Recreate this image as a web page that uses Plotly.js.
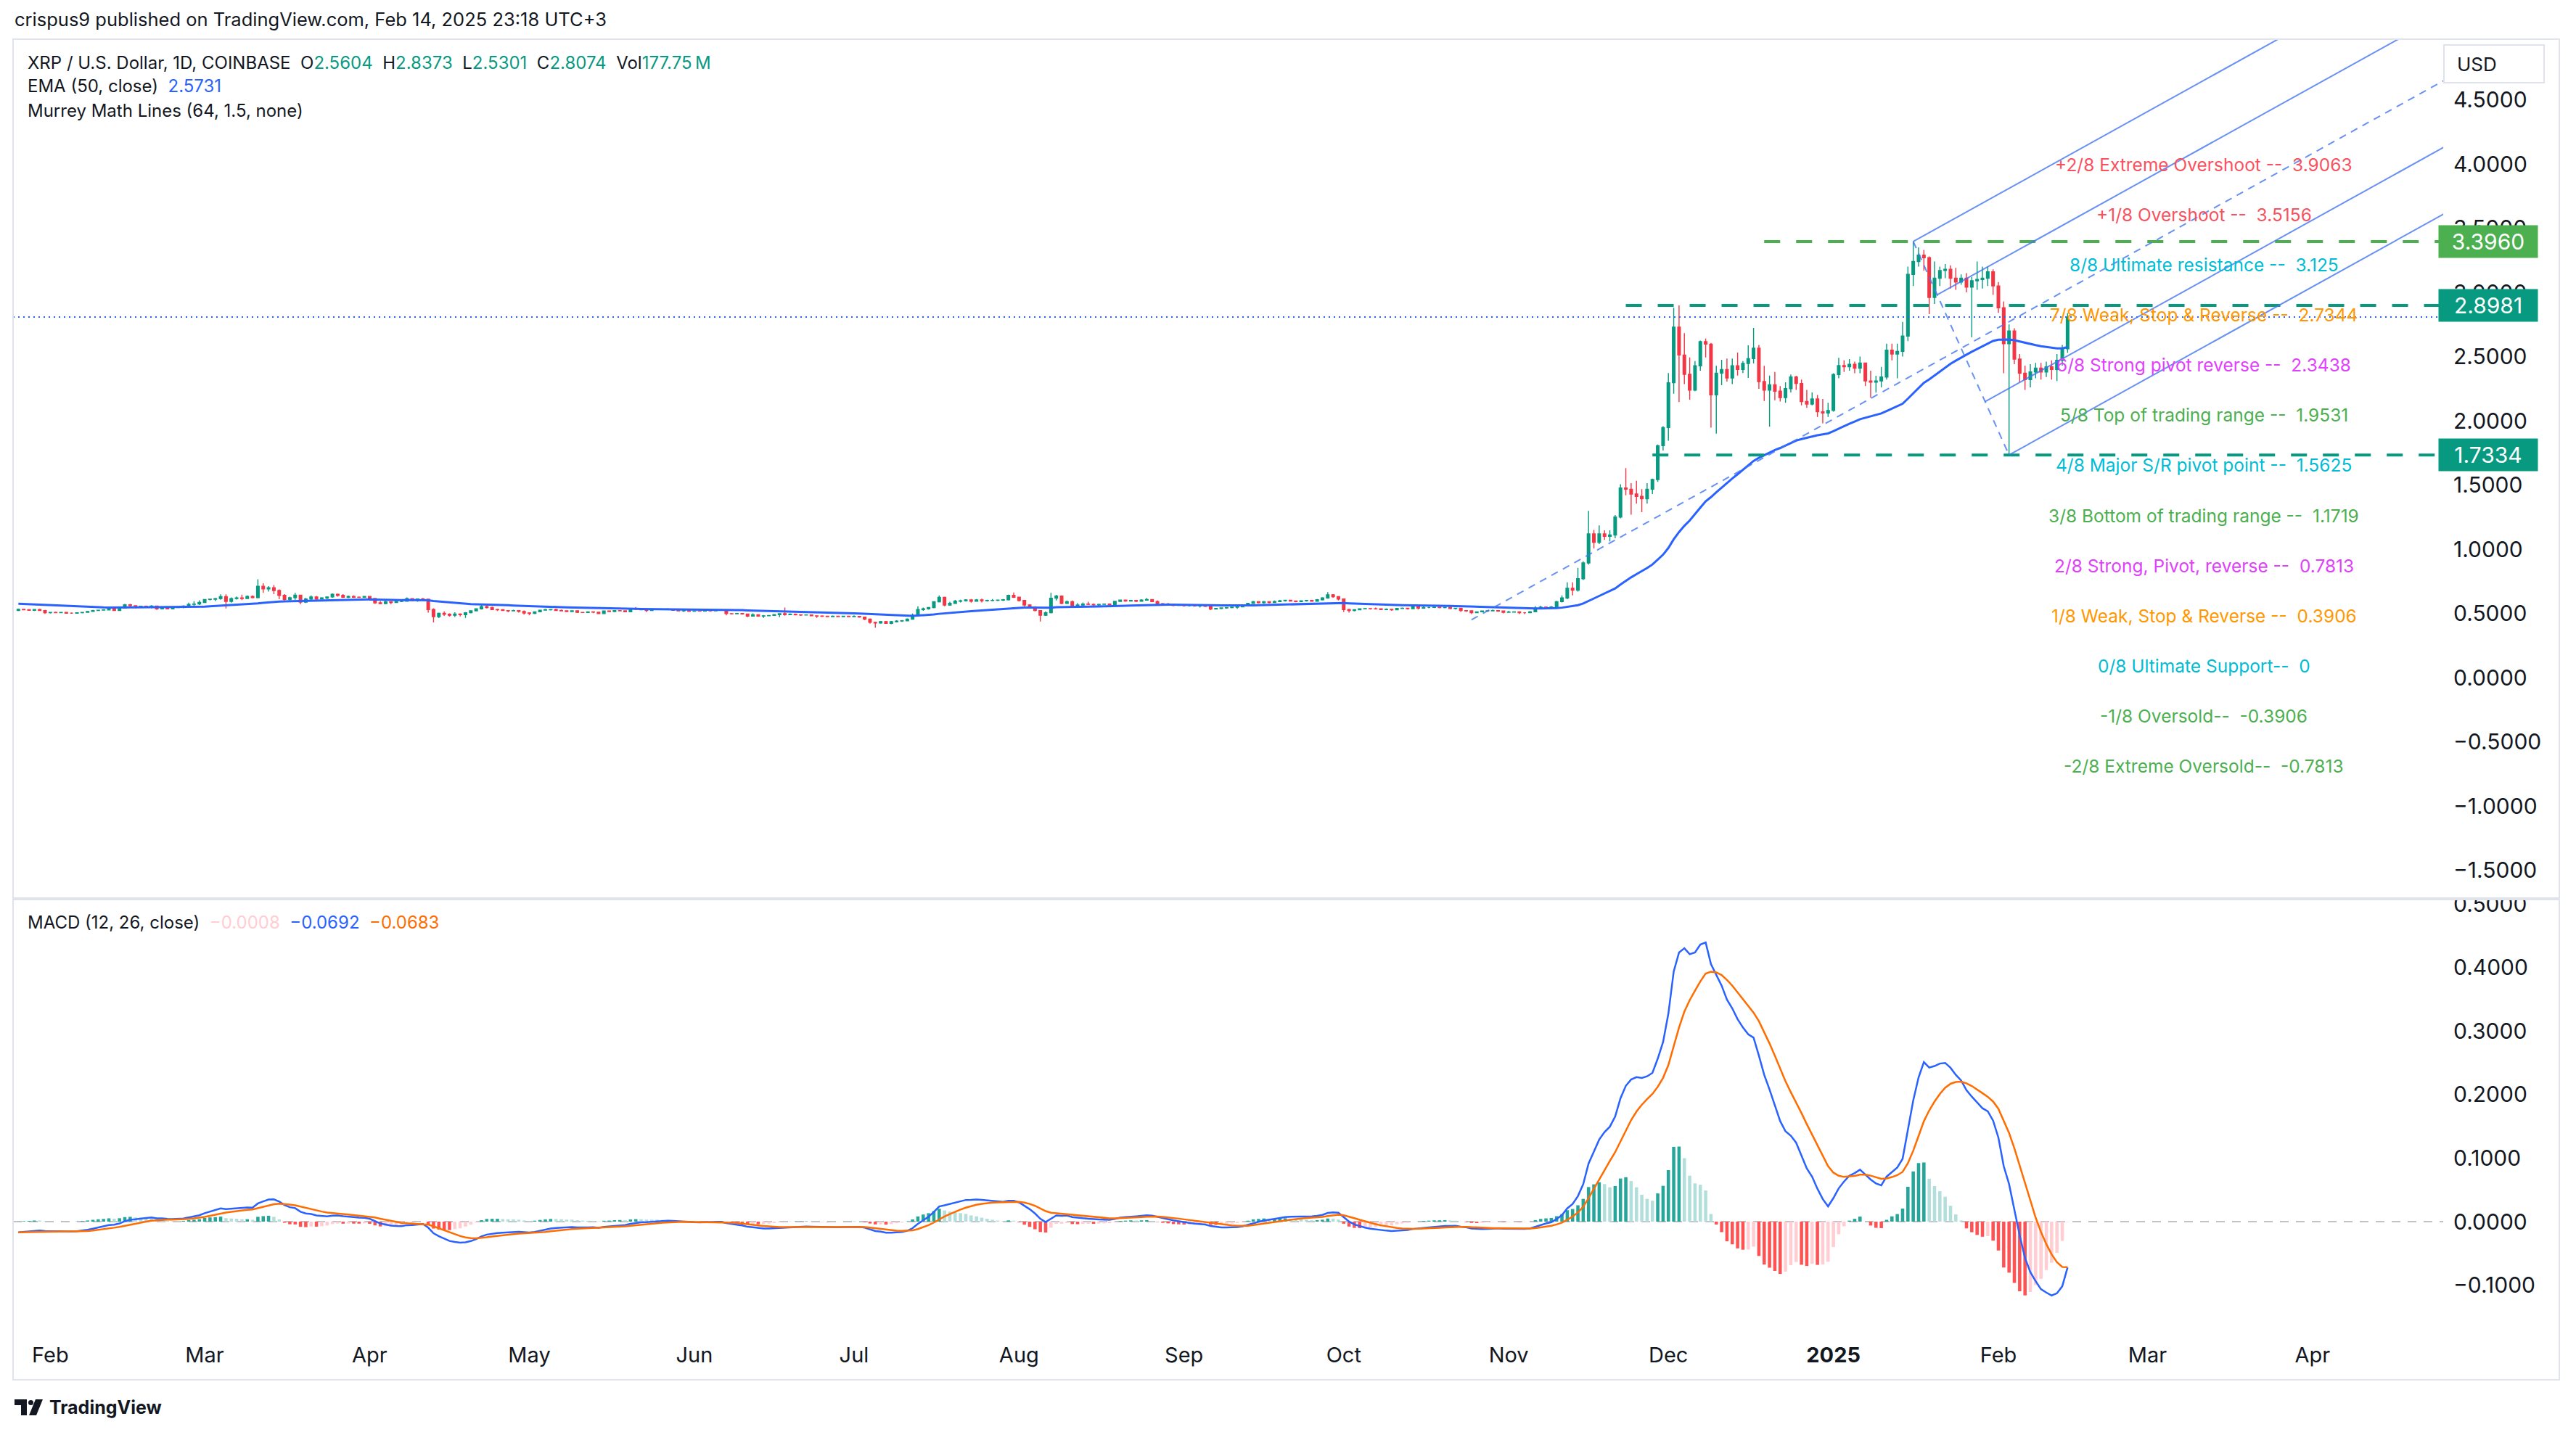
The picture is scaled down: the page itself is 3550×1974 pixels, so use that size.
<!DOCTYPE html>
<html><head><meta charset="utf-8">
<script src="https://cdn.plot.ly/plotly-3.0.1.min.js"></script>
<style>html,body{margin:0;padding:0;background:#fff;}#chart{width:3550px;height:1974px;}</style>
</head><body><div id="chart"></div>
<script>
// ---------------- DATA (XRP/USD daily, Coinbase) ----------------
const firstDay = '2024-01-26';
const firstOpen = 0.522;
const closes = [
 0.531,0.528,0.524,0.530,0.522,0.505,
 0.508,0.506,0.507,0.501,0.501,0.505,0.508,0.515,0.522,0.525,0.527,0.538,0.523,0.541,0.566,0.560,0.547,0.556,0.553,0.557,0.535,0.547,0.535,0.545,0.548,0.557,0.570,0.573,0.585,
 0.608,0.610,0.615,0.630,0.593,0.615,0.621,0.616,0.632,0.622,0.711,0.690,0.700,0.678,0.640,0.608,0.622,0.642,0.587,0.612,0.628,0.612,0.620,0.628,0.648,0.640,0.626,0.632,0.626,0.625,0.632,
 0.616,0.582,0.576,0.591,0.585,0.593,0.594,0.615,0.600,0.612,0.610,0.530,0.475,0.500,0.493,0.485,0.495,0.490,0.505,0.520,0.535,0.552,0.545,0.530,0.528,0.522,0.520,0.521,0.515,0.503,
 0.500,0.512,0.525,0.528,0.530,0.523,0.520,0.514,0.520,0.508,0.507,0.511,0.509,0.498,0.519,0.514,0.521,0.520,0.513,0.535,0.534,0.528,0.523,0.530,0.532,0.530,0.533,0.524,0.519,0.521,0.516,
 0.519,0.518,0.522,0.520,0.527,0.524,0.498,0.497,0.499,0.495,0.478,0.489,0.478,0.481,0.484,0.490,0.497,0.490,0.493,0.489,0.487,0.488,0.481,0.479,0.477,0.474,0.478,0.475,0.478,0.474,
 0.476,0.471,0.455,0.430,0.425,0.436,0.422,0.435,0.440,0.442,0.455,0.485,0.530,0.535,0.545,0.590,0.625,0.565,0.578,0.595,0.598,0.605,0.595,0.605,0.598,0.600,0.601,0.603,0.606,0.640,0.626,
 0.600,0.565,0.550,0.522,0.485,0.505,0.618,0.635,0.578,0.590,0.555,0.565,0.572,0.570,0.566,0.570,0.572,0.568,0.593,0.603,0.596,0.600,0.595,0.603,0.608,0.592,0.575,0.574,0.572,0.562,0.565,
 0.560,0.562,0.558,0.560,0.555,0.534,0.538,0.542,0.545,0.548,0.550,0.560,0.578,0.590,0.583,0.590,0.584,0.592,0.598,0.602,0.596,0.592,0.598,0.600,0.594,0.606,0.620,0.645,0.630,0.612,
 0.530,0.522,0.528,0.535,0.537,0.536,0.535,0.530,0.532,0.528,0.538,0.540,0.536,0.552,0.540,0.546,0.546,0.548,0.545,0.547,0.538,0.540,0.522,0.520,0.505,0.512,0.518,0.520,0.522,0.518,0.508,
 0.510,0.512,0.505,0.505,0.512,0.540,0.548,0.545,0.550,0.591,0.620,0.695,0.680,0.770,0.893,1.119,1.053,1.119,1.100,1.110,1.250,1.476,1.467,1.429,1.411,1.392,1.467,1.542,1.806,1.947,
 2.296,2.729,2.512,2.362,2.239,2.428,2.616,2.597,2.202,2.371,2.399,2.333,2.428,2.399,2.446,2.484,2.565,2.305,2.239,2.280,2.230,2.180,2.250,2.340,2.290,2.150,2.130,2.170,2.070,2.060,2.080,
 2.360,2.430,2.420,2.440,2.410,2.450,2.310,2.300,2.310,2.340,2.550,2.520,2.540,2.660,3.140,3.240,3.290,3.270,2.960,3.110,3.170,3.180,3.110,3.080,3.110,3.040,3.090,3.100,3.110,3.160,3.050,
 2.880,2.600,2.700,2.480,2.370,2.320,2.380,2.410,2.380,2.420,2.400,2.470,2.5604,2.8074
];
const highs = [
 0.537,0.534,0.533,0.534,0.535,0.527,
 0.511,0.513,0.510,0.509,0.507,0.509,0.511,0.519,0.527,0.528,0.532,0.541,0.540,0.544,0.573,0.574,0.563,0.560,0.561,0.563,0.558,0.550,0.549,0.548,0.551,0.562,0.583,0.595,0.601,
 0.612,0.614,0.620,0.648,0.648,0.625,0.632,0.646,0.640,0.640,0.765,0.735,0.712,0.720,0.686,0.650,0.630,0.660,0.645,0.620,0.640,0.635,0.626,0.632,0.655,0.654,0.650,0.638,0.640,0.632,0.635,
 0.636,0.620,0.594,0.598,0.592,0.598,0.603,0.624,0.618,0.614,0.620,0.612,0.540,0.505,0.515,0.500,0.508,0.500,0.510,0.524,0.540,0.565,0.560,0.552,0.535,0.532,0.525,0.528,0.523,0.522,
 0.508,0.515,0.528,0.536,0.533,0.537,0.530,0.523,0.524,0.523,0.511,0.513,0.515,0.511,0.523,0.522,0.525,0.524,0.522,0.540,0.550,0.537,0.533,0.533,0.535,0.534,0.540,0.535,0.528,0.525,0.524,
 0.521,0.522,0.527,0.524,0.531,0.530,0.528,0.501,0.502,0.500,0.497,0.500,0.490,0.487,0.487,0.495,0.500,0.545,0.500,0.498,0.492,0.490,0.490,0.482,0.485,0.480,0.483,0.481,0.480,0.482,
 0.485,0.480,0.474,0.460,0.435,0.440,0.440,0.440,0.447,0.448,0.460,0.498,0.555,0.545,0.550,0.595,0.640,0.630,0.590,0.605,0.606,0.610,0.612,0.612,0.615,0.606,0.612,0.607,0.612,0.645,0.662,
 0.630,0.605,0.570,0.555,0.525,0.515,0.660,0.644,0.640,0.600,0.600,0.580,0.585,0.590,0.577,0.575,0.576,0.578,0.596,0.608,0.608,0.604,0.602,0.610,0.620,0.610,0.600,0.580,0.580,0.575,0.570,
 0.566,0.566,0.568,0.565,0.565,0.560,0.542,0.545,0.550,0.552,0.554,0.566,0.582,0.596,0.594,0.596,0.595,0.600,0.604,0.606,0.604,0.600,0.602,0.604,0.602,0.612,0.626,0.665,0.650,0.634,
 0.614,0.535,0.532,0.540,0.540,0.540,0.545,0.538,0.538,0.535,0.542,0.545,0.541,0.560,0.556,0.560,0.551,0.552,0.550,0.552,0.552,0.544,0.542,0.526,0.522,0.515,0.520,0.524,0.530,0.525,0.522,
 0.520,0.516,0.515,0.510,0.518,0.556,0.560,0.553,0.557,0.598,0.640,0.742,0.742,0.855,0.905,1.298,1.150,1.185,1.147,1.147,1.265,1.505,1.631,1.514,1.533,1.467,1.514,1.550,1.815,1.957,
 2.371,2.880,2.8981,2.682,2.493,2.465,2.625,2.640,2.606,2.428,2.475,2.484,2.484,2.531,2.465,2.588,2.723,2.591,2.428,2.352,2.380,2.270,2.300,2.360,2.350,2.320,2.240,2.220,2.200,2.170,2.140,
 2.370,2.490,2.470,2.480,2.460,2.500,2.450,2.390,2.350,2.420,2.600,2.600,2.600,2.770,3.200,3.396,3.350,3.330,3.280,3.240,3.200,3.220,3.210,3.190,3.140,3.150,3.120,3.240,3.200,3.200,3.180,
 3.080,2.930,2.750,2.720,2.520,2.430,2.440,2.450,2.450,2.460,2.470,2.520,2.590,2.8373
];
const lows = [
 0.518,0.524,0.520,0.518,0.519,0.496,
 0.498,0.503,0.504,0.498,0.497,0.500,0.500,0.506,0.512,0.518,0.522,0.522,0.518,0.520,0.538,0.552,0.540,0.544,0.549,0.540,0.527,0.533,0.531,0.533,0.541,0.540,0.552,0.554,0.565,
 0.582,0.600,0.596,0.606,0.538,0.584,0.608,0.603,0.612,0.617,0.617,0.660,0.670,0.650,0.610,0.600,0.594,0.606,0.570,0.580,0.604,0.600,0.606,0.610,0.622,0.630,0.620,0.618,0.620,0.620,0.622,
 0.600,0.574,0.570,0.570,0.571,0.580,0.588,0.590,0.594,0.590,0.603,0.505,0.430,0.463,0.480,0.474,0.472,0.476,0.465,0.500,0.515,0.530,0.538,0.525,0.518,0.518,0.509,0.515,0.506,0.490,
 0.485,0.494,0.508,0.522,0.522,0.520,0.516,0.510,0.510,0.503,0.504,0.505,0.502,0.496,0.496,0.510,0.512,0.517,0.510,0.511,0.526,0.524,0.510,0.520,0.528,0.526,0.528,0.520,0.516,0.512,0.512,
 0.515,0.514,0.516,0.514,0.518,0.520,0.485,0.492,0.494,0.490,0.470,0.475,0.474,0.465,0.478,0.482,0.470,0.482,0.488,0.486,0.480,0.484,0.478,0.465,0.472,0.470,0.470,0.470,0.473,0.470,
 0.470,0.466,0.448,0.420,0.388,0.420,0.418,0.415,0.430,0.433,0.438,0.450,0.482,0.520,0.530,0.540,0.585,0.555,0.560,0.575,0.585,0.592,0.584,0.590,0.585,0.592,0.595,0.596,0.596,0.600,0.620,
 0.592,0.555,0.540,0.515,0.437,0.480,0.500,0.600,0.570,0.575,0.550,0.550,0.560,0.565,0.556,0.560,0.566,0.565,0.564,0.590,0.590,0.594,0.588,0.592,0.600,0.588,0.566,0.562,0.566,0.555,0.560,
 0.552,0.554,0.552,0.545,0.550,0.525,0.532,0.533,0.537,0.540,0.535,0.546,0.556,0.576,0.578,0.575,0.578,0.580,0.588,0.592,0.592,0.586,0.588,0.592,0.590,0.592,0.600,0.615,0.622,0.600,
 0.512,0.505,0.515,0.525,0.532,0.530,0.530,0.525,0.526,0.520,0.524,0.535,0.530,0.533,0.530,0.538,0.540,0.541,0.540,0.540,0.533,0.530,0.512,0.512,0.495,0.502,0.508,0.512,0.515,0.512,0.500,
 0.505,0.506,0.495,0.495,0.502,0.510,0.535,0.538,0.540,0.545,0.585,0.610,0.640,0.670,0.760,0.880,1.006,1.040,1.072,1.060,1.085,1.240,1.420,1.269,1.354,1.288,1.354,1.429,1.524,1.768,
 1.844,2.211,2.145,2.286,2.164,2.230,2.390,2.493,1.947,1.900,2.277,2.305,2.286,2.352,2.371,2.333,2.446,2.249,2.154,1.953,2.160,2.150,2.140,2.220,2.240,2.120,2.100,2.120,2.030,1.980,2.030,
 2.070,2.330,2.380,2.390,2.370,2.370,2.270,2.180,2.220,2.260,2.320,2.470,2.330,2.500,2.620,3.050,3.200,3.170,2.830,2.910,3.050,3.110,3.030,3.020,3.060,3.000,2.650,3.020,3.030,3.050,2.980,
 2.840,2.370,1.7334,2.440,2.300,2.240,2.260,2.330,2.320,2.340,2.320,2.310,2.430,2.5301
];
// indicator states at the first visible bar
const emaSeeds = {ema50: 0.576, ema12: 0.533, ema26: 0.551, signal: -0.017};

// Murrey Math levels
const murreyLevels = [3.9063, 3.5156, 3.125, 2.7344, 2.3438, 1.9531, 1.5625, 1.1719, 0.7813, 0.3906, 0, -0.3906, -0.7813];
const murreyLabels = [
 '+2/8 Extreme Overshoot --\u00a0 3.9063', '+1/8 Overshoot --\u00a0 3.5156', '8/8 Ultimate resistance --\u00a0 3.125',
 '7/8 Weak, Stop & Reverse --\u00a0 2.7344', '6/8 Strong pivot reverse --\u00a0 2.3438', '5/8 Top of trading range --\u00a0 1.9531',
 '4/8 Major S/R pivot point --\u00a0 1.5625', '3/8 Bottom of trading range --\u00a0 1.1719', '2/8 Strong, Pivot, reverse --\u00a0 0.7813',
 '1/8 Weak, Stop & Reverse --\u00a0 0.3906', '0/8 Ultimate Support--\u00a0 0', '-1/8 Oversold--\u00a0 -0.3906', '-2/8 Extreme Oversold--\u00a0 -0.7813'
];
const murreyColors = ['#F7525F','#F7525F','#00BCD4','#FF9800','#E040FB','#4CAF50','#00BCD4','#4CAF50','#E040FB','#FF9800','#00BCD4','#4CAF50','#4CAF50'];
const murreyLabelDate = '2025-03-11 14:00';

// horizontal drawings
const hLevels = [3.3960, 2.8981, 1.7334];
const hLabels = ['3.3960', '2.8981', '1.7334'];
const hStarts = ['2024-12-19', '2024-11-23', '2024-11-28'];
const hColors = ['#4CAF50', '#089981', '#089981'];
const lastClose = 2.8074;

// pitchfork anchors [date, price]
const pitchA = ['2024-10-25', 0.45];
const pitchB = ['2025-01-16', 3.396];
const pitchC = ['2025-02-03', 1.7334];
const pitchLevels = [1, 0.5, -0.5, -1];

// axes ticks
const monthTicks = ['2024-02-01','2024-03-01','2024-04-01','2024-05-01','2024-06-01','2024-07-01','2024-08-01','2024-09-01','2024-10-01','2024-11-01','2024-12-01','2025-01-01','2025-02-01','2025-03-01','2025-04-01'];
const monthLabels = ['Feb','Mar','Apr','May','Jun','Jul','Aug','Sep','Oct','Nov','Dec','<b>2025</b>','Feb','Mar','Apr'];
const priceTicks = [-1.5,-1,-0.5,0,0.5,1,1.5,2,2.5,3,3.5,4,4.5];
const macdTicks = [-0.1,0,0.1,0.2,0.3,0.4,0.5];

// legend texts
const headerText = 'crispus9 published on TradingView.com, Feb 14, 2025 23:18 UTC+3';
const symbolText = 'XRP / U.S. Dollar, 1D, COINBASE';
const ohlcNames = ['O','H','L','C','Vol'];
const ohlcValues = ['2.5604','2.8373','2.5301','2.8074','177.75\u2009M'];
const emaLegend = ['EMA (50, close)', '2.5731'];
const murreyLegend = 'Murrey Math Lines (64, 1.5, none)';
const macdLegend = ['MACD (12, 26, close)', '\u22120.0008', '\u22120.0692', '\u22120.0683'];

// ---------------- BUILD ----------------
const DAY = 86400000;
const t0 = Date.parse(firstDay + 'T00:00:00Z');
const dates = closes.map((_, i) => new Date(t0 + i * DAY).toISOString().slice(0, 10));
const opens = closes.map((c, i) => i === 0 ? firstOpen : closes[i - 1]);

function emaSeries(src, n, seed) { const a = 2 / (n + 1); let e = seed; return src.map(v => (e = e + a * (v - e))); }
const ema50 = emaSeries(closes, 50, emaSeeds.ema50);
const ema12 = emaSeries(closes, 12, emaSeeds.ema12);
const ema26 = emaSeries(closes, 26, emaSeeds.ema26);
const macd = ema12.map((v, i) => v - ema26[i]);
const signal = emaSeries(macd, 9, emaSeeds.signal);
const hist = macd.map((v, i) => v - signal[i]);
const histColors = hist.map((h, i) => {
  const p = i > 0 ? hist[i - 1] : h;
  return h >= 0 ? (h >= p ? '#26A69A' : '#B2DFDB') : (h < p ? '#FF5252' : '#FFCDD2');
});

const L = 18, R = 3367, T = 54, B = 1840;
const PX = x => (x - L) / (R - L);
const PY = y => (B - y) / (B - T);
const FONT = 'Inter, "Noto Sans", Roboto, sans-serif';
const INK = '#131722';

function fmt(ms) { return new Date(ms).toISOString().replace('T', ' ').slice(0, 19); }
function ms(d) { return Date.parse(d.length === 10 ? d + 'T00:00:00Z' : d.replace(' ', 'T') + 'Z'); }

const traces = [
  {type: 'candlestick', x: dates, open: opens, high: highs, low: lows, close: closes, xaxis: 'x', yaxis: 'y',
   increasing: {line: {color: '#089981', width: 1.4}, fillcolor: '#089981'},
   decreasing: {line: {color: '#F23645', width: 1.4}, fillcolor: '#F23645'},
   whiskerwidth: 0, hoverinfo: 'skip', showlegend: false},
  {type: 'scatter', mode: 'lines', x: dates, y: ema50, xaxis: 'x', yaxis: 'y', line: {color: '#2962FF', width: 3}, hoverinfo: 'skip'},
  {type: 'bar', x: dates, y: hist, xaxis: 'x', yaxis: 'y2', marker: {color: histColors, line: {width: 0}}, width: 0.62 * DAY, hoverinfo: 'skip'},
  {type: 'scatter', mode: 'lines', x: dates, y: macd, xaxis: 'x', yaxis: 'y2', line: {color: '#2962FF', width: 2.5}, hoverinfo: 'skip'},
  {type: 'scatter', mode: 'lines', x: dates, y: signal, xaxis: 'x', yaxis: 'y2', line: {color: '#FF6D00', width: 2.5}, hoverinfo: 'skip'}
];

const shapes = [];
const annotations = [];

// MACD zero line
shapes.push({type: 'line', xref: 'paper', yref: 'y2', x0: 0, x1: 1, y0: 0, y1: 0, line: {color: 'rgba(120,123,134,0.45)', width: 2, dash: '12px,10px'}, layer: 'below'});
// last price dotted line
shapes.push({type: 'line', xref: 'paper', yref: 'y', x0: 0, x1: 1, y0: lastClose, y1: lastClose, line: {color: '#2962FF', width: 2, dash: '2px,5px'}});
// horizontal dashed drawings
hLevels.forEach((v, i) => {
  shapes.push({type: 'line', xref: 'x', yref: 'y', x0: hStarts[i], x1: '2025-06-30', y0: v, y1: v, line: {color: hColors[i], width: 4, dash: '22px,22px'}});
  annotations.push({xref: 'paper', yref: 'y', x: PX(3360), y: v, xanchor: 'left', yanchor: 'middle', text: hLabels[i], showarrow: false,
    font: {family: FONT, size: 30, color: '#ffffff'}, bgcolor: hColors[i], width: 132, height: 40, borderpad: 2, align: 'center'});
});

// pitchfork
const pfColor = 'rgba(66,118,240,0.8)';
const aT = ms(pitchA[0]), bT = ms(pitchB[0]), cT = ms(pitchC[0]);
const mT = (bT + cT) / 2, mP = (pitchB[1] + pitchC[1]) / 2;
const slope = (mP - pitchA[1]) / (mT - aT);
const endT = ms('2025-07-31');
shapes.push({type: 'line', xref: 'x', yref: 'y', x0: pitchA[0], y0: pitchA[1], x1: fmt(endT), y1: pitchA[1] + slope * (endT - aT), line: {color: pfColor, width: 2, dash: '10px,8px'}});
shapes.push({type: 'line', xref: 'x', yref: 'y', x0: pitchB[0], y0: pitchB[1], x1: pitchC[0], y1: pitchC[1], line: {color: pfColor, width: 2, dash: '10px,8px'}});
pitchLevels.forEach(f => {
  const sT = mT + f * (bT - mT), sP = mP + f * (pitchB[1] - mP);
  shapes.push({type: 'line', xref: 'x', yref: 'y', x0: fmt(sT), y0: sP, x1: fmt(endT), y1: sP + slope * (endT - sT), line: {color: pfColor, width: 2}});
});

// frame, separator, axis header
shapes.push({type: 'rect', xref: 'paper', yref: 'paper', x0: PX(3370), x1: PX(3524), y0: PY(1241), y1: PY(1218), fillcolor: '#ffffff', line: {width: 0}, layer: 'above'});
shapes.push({type: 'line', xref: 'paper', yref: 'paper', x0: PX(18), x1: PX(3527), y0: PY(1239), y1: PY(1239), line: {color: '#E0E3EB', width: 4}, layer: 'above'});
shapes.push({type: 'rect', xref: 'paper', yref: 'paper', x0: PX(18), x1: PX(3527), y0: PY(1902), y1: PY(54), line: {color: '#E0E3EB', width: 2}, layer: 'above'});
shapes.push({type: 'rect', xref: 'paper', yref: 'paper', x0: PX(3368), x1: PX(3506), y0: PY(114), y1: PY(62), line: {color: '#E0E3EB', width: 2}, fillcolor: '#ffffff', layer: 'above'});
annotations.push({xref: 'paper', yref: 'paper', x: PX(3384), y: PY(88), xanchor: 'left', yanchor: 'middle', text: 'USD', showarrow: false, font: {family: FONT, size: 26, color: INK}});

// Murrey labels
murreyLevels.forEach((v, i) => annotations.push({xref: 'x', yref: 'y', x: murreyLabelDate, y: v, xanchor: 'center', yanchor: 'bottom',
  text: murreyLabels[i], showarrow: false, font: {family: FONT, size: 24.5, color: murreyColors[i]}, borderpad: 0}));

// header + legends
annotations.push({xref: 'paper', yref: 'paper', x: PX(18), y: PY(27), xanchor: 'left', yanchor: 'middle', text: headerText, showarrow: false, font: {family: FONT, size: 25.5, color: INK}});
const ohlcHtml = ohlcNames.map((n, i) => n + '<span style="color:#089981">' + ohlcValues[i] + '</span>').join('\u00a0\u00a0');
annotations.push({xref: 'paper', yref: 'paper', x: PX(36), y: PY(86), xanchor: 'left', yanchor: 'middle', text: symbolText + '\u00a0\u00a0' + ohlcHtml, showarrow: false, font: {family: FONT, size: 24, color: INK}});
annotations.push({xref: 'paper', yref: 'paper', x: PX(36), y: PY(119), xanchor: 'left', yanchor: 'middle', text: emaLegend[0] + '\u00a0\u00a0<span style="color:#2962FF">' + emaLegend[1] + '</span>', showarrow: false, font: {family: FONT, size: 24, color: INK}});
annotations.push({xref: 'paper', yref: 'paper', x: PX(36), y: PY(152), xanchor: 'left', yanchor: 'middle', text: murreyLegend, showarrow: false, font: {family: FONT, size: 24, color: INK}});
annotations.push({xref: 'paper', yref: 'paper', x: PX(36), y: PY(1271), xanchor: 'left', yanchor: 'middle',
  text: macdLegend[0] + '\u00a0\u00a0<span style="color:#FFCDD2">' + macdLegend[1] + '</span>\u00a0\u00a0<span style="color:#2962FF">' + macdLegend[2] + '</span>\u00a0\u00a0<span style="color:#FF6D00">' + macdLegend[3] + '</span>',
  showarrow: false, font: {family: FONT, size: 24, color: INK}});

// footer logo
shapes.push({type: 'path', xref: 'paper', yref: 'paper', path: 'M' + PX(20) + ',' + PY(1929) + ' L' + PX(37) + ',' + PY(1929) + ' L' + PX(37) + ',' + PY(1951) + ' L' + PX(29) + ',' + PY(1951) + ' L' + PX(29) + ',' + PY(1937) + ' L' + PX(20) + ',' + PY(1937) + ' Z', fillcolor: INK, line: {width: 0}});
shapes.push({type: 'circle', xref: 'paper', yref: 'paper', x0: PX(39), x1: PX(46), y0: PY(1937), y1: PY(1930), fillcolor: INK, line: {width: 0}});
shapes.push({type: 'path', xref: 'paper', yref: 'paper', path: 'M' + PX(49) + ',' + PY(1929) + ' L' + PX(59) + ',' + PY(1929) + ' L' + PX(50) + ',' + PY(1951) + ' L' + PX(40) + ',' + PY(1951) + ' Z', fillcolor: INK, line: {width: 0}});
annotations.push({xref: 'paper', yref: 'paper', x: PX(66), y: PY(1940), xanchor: 'left', yanchor: 'middle', text: '<b>TradingView</b>', showarrow: false, font: {family: FONT, size: 25, color: INK}});

const tickFmt = v => (v < 0 ? '\u2212' : '') + Math.abs(v).toFixed(4);

const layout = {
  width: 3550, height: 1974,
  paper_bgcolor: '#ffffff', plot_bgcolor: '#ffffff',
  margin: {l: L, r: 3550 - R, t: T, b: 1974 - B, pad: 0},
  showlegend: false, hovermode: false, dragmode: false,
  font: {family: FONT, color: INK, size: 24},
  xaxis: {type: 'date', range: ['2024-01-25 00:00', '2025-04-25 13:40'], anchor: 'y2', tickmode: 'array', tickvals: monthTicks, ticktext: monthLabels,
    ticks: '', showgrid: false, zeroline: false, showline: false, rangeslider: {visible: false}, tickfont: {size: 29, color: INK}, ticklabelstandoff: 8, fixedrange: true},
  yaxis: {domain: [PY(1238), 1], range: [(934 - 1238) / 177, (934 - 54) / 177], side: 'right', tickmode: 'array', tickvals: priceTicks, ticktext: priceTicks.map(tickFmt),
    showgrid: false, zeroline: false, showline: false, ticks: '', tickfont: {size: 30, color: INK}, ticklabelstandoff: 13, fixedrange: true},
  yaxis2: {domain: [0, PY(1240)], range: [(1684 - 1840) / 876, (1684 - 1240) / 876], side: 'right', anchor: 'x', tickmode: 'array', tickvals: macdTicks, ticktext: macdTicks.map(tickFmt),
    showgrid: false, zeroline: false, showline: false, ticks: '', tickfont: {size: 30, color: INK}, ticklabelstandoff: 13, fixedrange: true},
  shapes: shapes, annotations: annotations
};

Plotly.newPlot('chart', traces, layout, {staticPlot: true, displayModeBar: false});
</script></body></html>
